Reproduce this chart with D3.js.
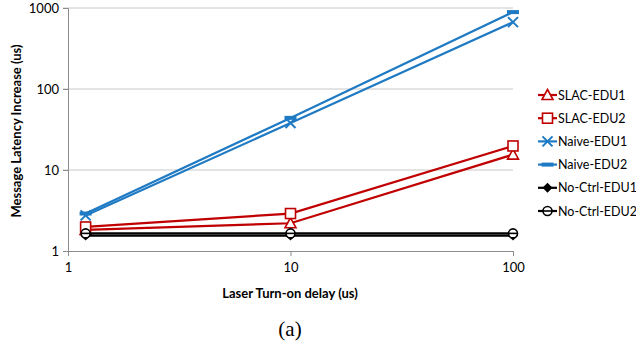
<!DOCTYPE html>
<html>
<head>
<meta charset="utf-8">
<script src="https://cdn.jsdelivr.net/npm/d3@7"></script>
<style>
  body { margin: 0; background: #fff; }
  text { font-family: Lato, "Open Sans", sans-serif; }
  text.serif { font-family: "Liberation Serif", serif; }
</style>
</head>
<body>
<svg id="chart" width="636" height="351"></svg>
<script>
const delays = [1.2, 10, 100]
const seriesNames = ['SLAC-EDU1', 'SLAC-EDU2', 'Naive-EDU1', 'Naive-EDU2', 'No-Ctrl-EDU1', 'No-Ctrl-EDU2']
const slacEdu1 = [1.82, 2.2, 15.5]
const slacEdu2 = [1.98, 2.9, 19.8]
const naiveEdu1 = [2.75, 38, 670]
const naiveEdu2 = [2.9, 44, 890]
const noCtrlEdu1 = [1.55, 1.55, 1.55]
const noCtrlEdu2 = [1.65, 1.65, 1.65]
const xTicks = [1, 10, 100]
const yTicks = [1, 10, 100, 1000]

const colors = ['#c00000', '#c00000', '#1f7ac4', '#1f7ac4', '#000', '#000']
const markers = ['triangle', 'square', 'cross', 'dash', 'diamond', 'circle']
const allValues = [slacEdu1, slacEdu2, naiveEdu1, naiveEdu2, noCtrlEdu1, noCtrlEdu2]

const svg = d3.select('#chart')

const x = d3.scaleLog().domain([1, 100]).range([68, 513])
const y = d3.scaleLog().domain([1, 1000]).range([251, 8])

// gridlines
svg.append('g')
    .selectAll('line')
    .data(yTicks.slice(1))
    .enter()
    .append('line')
    .attr('x1', 63)
    .attr('x2', 513)
    .attr('y1', d => y(d))
    .attr('y2', d => y(d))
    .attr('stroke', '#c8c8c8')
    .attr('stroke-width', 1)

// y axis
const yAxis = svg.append('g').attr('transform', 'translate(68,0)')
    .call(d3.axisLeft(y).tickValues(yTicks).tickFormat(d3.format('d')).tickSize(5))
yAxis.select('.domain').attr('stroke', '#8c8c8c')
yAxis.selectAll('.tick line').attr('stroke', '#8c8c8c')
yAxis.selectAll('text').attr('font-size', 13).attr('fill', '#000').attr('x', -9)

// x axis
const xAxis = svg.append('g').attr('transform', 'translate(0,251)')
    .call(d3.axisBottom(x).tickValues(xTicks).tickFormat(d3.format('d')).tickSize(5))
xAxis.select('.domain').attr('stroke', '#8c8c8c')
xAxis.selectAll('.tick line').attr('stroke', '#8c8c8c')
xAxis.selectAll('text').attr('font-size', 13).attr('fill', '#000').attr('y', 12)

// axis titles
svg.append('text')
    .attr('transform', 'translate(21,131) rotate(-90)')
    .attr('text-anchor', 'middle')
    .attr('font-size', 13)
    .attr('font-weight', 'bold')
    .text('Message Latency Increase (us)')

svg.append('text')
    .attr('x', 290)
    .attr('y', 298)
    .attr('text-anchor', 'middle')
    .attr('font-size', 13)
    .attr('font-weight', 'bold')
    .text('Laser Turn-on delay (us)')

svg.append('text')
    .attr('class', 'serif')
    .attr('x', 290)
    .attr('y', 336)
    .attr('text-anchor', 'middle')
    .attr('font-size', 21)
    .text('(a)')

const drawMarker = (g, type, color) => {
    if (type === 'triangle') {
        g.append('path').attr('d', 'M0,-5.5L5.5,4.5L-5.5,4.5Z')
            .attr('fill', '#fff').attr('stroke', color).attr('stroke-width', 1.6)
    } else if (type === 'square') {
        g.append('rect').attr('x', -5).attr('y', -5).attr('width', 10).attr('height', 10)
            .attr('fill', '#fff').attr('stroke', color).attr('stroke-width', 1.6)
    } else if (type === 'cross') {
        g.append('path').attr('d', 'M-5,-5L5,5M-5,5L5,-5')
            .attr('stroke', color).attr('stroke-width', 2)
    } else if (type === 'dash') {
        g.append('rect').attr('x', -6).attr('y', -2).attr('width', 12).attr('height', 4)
            .attr('fill', color)
    } else if (type === 'diamond') {
        g.append('path').attr('d', 'M0,-5L5,0L0,5L-5,0Z').attr('fill', color)
    } else if (type === 'circle') {
        g.append('circle').attr('r', 4.5)
            .attr('fill', '#fff').attr('stroke', color).attr('stroke-width', 1.6)
        g.append('line').attr('x1', -4.5).attr('x2', 4.5)
            .attr('stroke', color).attr('stroke-width', 1.6)
    }
}

const line = d3.line().x(d => x(d[0])).y(d => y(d[1]))

allValues.forEach((vals, i) => {
    const pts = delays.map((d, j) => [d, vals[j]])
    svg.append('path')
        .attr('d', line(pts))
        .attr('fill', 'none')
        .attr('stroke', colors[i])
        .attr('stroke-width', 2.2)
    pts.forEach(p => {
        const g = svg.append('g').attr('transform', `translate(${x(p[0])},${y(p[1])})`)
        drawMarker(g, markers[i], colors[i])
    })
})

// legend
const legend = svg.append('g')
seriesNames.forEach((name, i) => {
    const ly = 95 + i * 23.2
    legend.append('line')
        .attr('x1', 538).attr('x2', 557)
        .attr('y1', ly).attr('y2', ly)
        .attr('stroke', colors[i]).attr('stroke-width', 2.2)
    const g = legend.append('g').attr('transform', `translate(547.5,${ly})`)
    drawMarker(g, markers[i], colors[i])
    legend.append('text')
        .attr('x', 558)
        .attr('y', ly + 4.5)
        .attr('font-size', 12.5)
        .text(name)
})
</script>
</body>
</html>
